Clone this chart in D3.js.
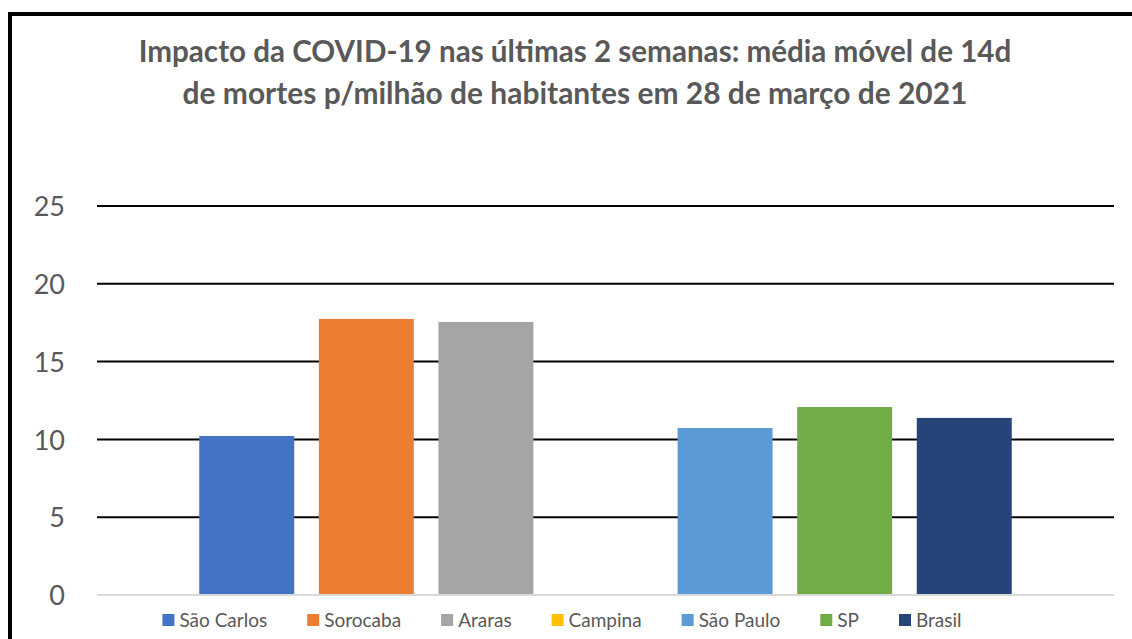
<!DOCTYPE html>
<html>
<head>
<meta charset="utf-8">
<script src="https://cdn.jsdelivr.net/npm/d3@7"></script>
<style>
  body { margin: 0; background: #fff; }
  text { font-family: Lato, "Open Sans", sans-serif; fill: #595959; }
</style>
</head>
<body>
<div id="root"></div>
<script>
// data
var series = ["São Carlos", "Sorocaba", "Araras", "Campina", "São Paulo", "SP", "Brasil"];
var values = [10.22, 17.74, 17.55, 0, 10.73, 12.08, 11.38];
var colors = ["#4472C4", "#ED7D31", "#A5A5A5", "#FFC000", "#5B9BD5", "#70AD47", "#264478"];
var yTicks = [0, 5, 10, 15, 20, 25];
var titleLines = [
    "Impacto da COVID-19 nas últimas 2 semanas: média móvel de 14d",
    "de mortes p/milhão de habitantes em 28 de março de 2021"
];

var W = 1132, H = 639;

var svg = d3.select("#root")
    .append("svg")
    .attr("width", W)
    .attr("height", H);

// frame (left + top border of the pasted chart)
svg.append("line")
    .attr("x1", 8).attr("y1", 14).attr("x2", W).attr("y2", 14)
    .attr("stroke", "#000").attr("stroke-width", 4);
svg.append("line")
    .attr("x1", 10).attr("y1", 12).attr("x2", 10).attr("y2", H)
    .attr("stroke", "#000").attr("stroke-width", 4);

var x = d3.scaleBand()
    .domain(series)
    .range([97, 1114])
    .paddingInner(0.206)
    .paddingOuter(0.855);

var y = d3.scaleLinear()
    .domain([0, 25])
    .range([595, 206]);

// gridlines
svg.append("g")
    .selectAll("line")
    .data(yTicks.filter(function (d) { return d > 0; }))
    .enter()
    .append("line")
    .attr("x1", 97)
    .attr("x2", 1114)
    .attr("y1", function (d) { return y(d); })
    .attr("y2", function (d) { return y(d); })
    .attr("stroke", "#000")
    .attr("stroke-width", 2);

// y axis labels
var yAxis = d3.axisLeft(y).tickValues(yTicks).tickSize(0).tickPadding(0);
var gy = svg.append("g")
    .attr("transform", "translate(65,0)")
    .call(yAxis);
gy.select(".domain").remove();
gy.selectAll("text")
    .attr("font-family", "Lato, 'Open Sans', sans-serif")
    .attr("font-size", 27)
    .attr("fill", "#595959")
    .attr("dy", "0.36em");

// bars
svg.selectAll("rect.bar")
    .data(values)
    .enter()
    .append("rect")
    .attr("class", "bar")
    .attr("x", function (d, i) { return x(series[i]); })
    .attr("y", function (d) { return y(d); })
    .attr("width", x.bandwidth())
    .attr("height", function (d) { return y(0) - y(d); })
    .attr("fill", function (d, i) { return colors[i]; });

// baseline
svg.append("line")
    .attr("x1", 97).attr("x2", 1114)
    .attr("y1", y(0)).attr("y2", y(0))
    .attr("stroke", "#d9d9d9")
    .attr("stroke-width", 2);

// title, fitted to the width of the original lines
var titleWidths = [873, 785];
var titleBase = [62, 104];
titleLines.forEach(function (t, i) {
    var tx = svg.append("text")
        .text(t)
        .attr("x", 575)
        .attr("y", titleBase[i])
        .attr("text-anchor", "middle")
        .attr("font-weight", "bold")
        .attr("font-size", 27);
    var w = tx.node().getComputedTextLength();
    tx.attr("font-size", 27 * titleWidths[i] / w);
});

// legend
var legend = svg.append("g");
var items = legend.selectAll("g")
    .data(series)
    .enter()
    .append("g");
items.append("rect")
    .attr("width", 12)
    .attr("height", 12)
    .attr("y", 614)
    .attr("fill", function (d, i) { return colors[i]; });
items.append("text")
    .text(function (d) { return d; })
    .attr("x", 17)
    .attr("y", 627)
    .attr("font-size", 19);

var pos = 0;
items.each(function () {
    var g = d3.select(this);
    g.attr("transform", "translate(" + pos + ",0)");
    pos += 17 + g.select("text").node().getComputedTextLength() + 40;
});
var total = pos - 40;
legend.attr("transform", "translate(" + (562 - total / 2) + ",0)");
</script>
</body>
</html>
